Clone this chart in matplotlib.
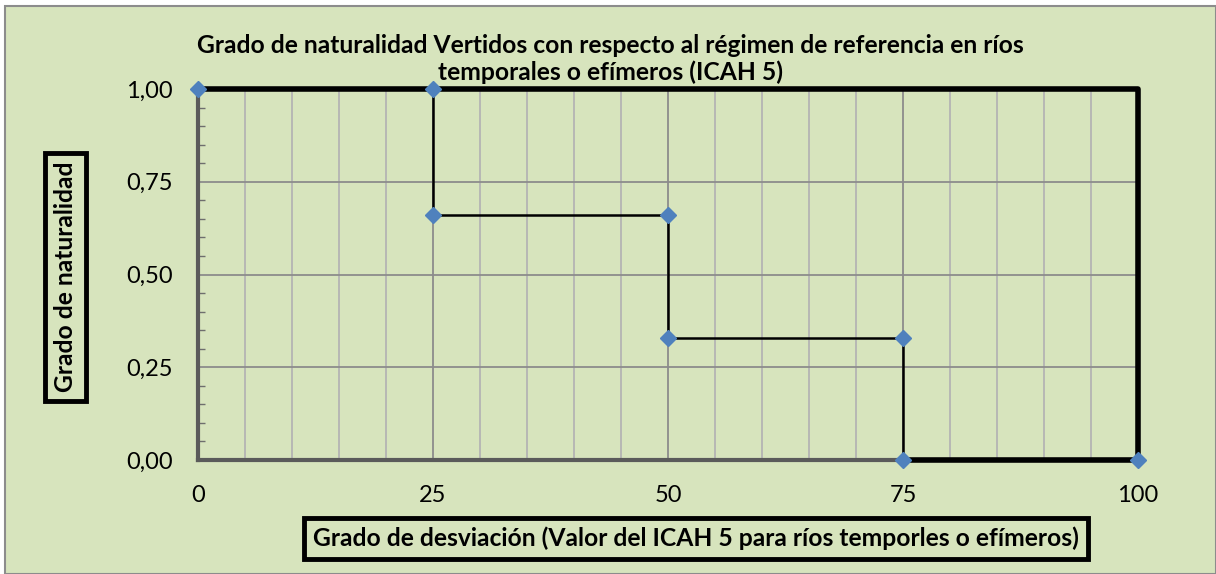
import matplotlib.pyplot as plt
from matplotlib.patches import Rectangle
from matplotlib.ticker import MultipleLocator, FixedLocator

# datos
desviacion = [0, 25, 25, 50, 50, 75, 75, 100]
naturalidad = [1.00, 1.00, 0.66, 0.66, 0.33, 0.33, 0.00, 0.00]
borde_x = [0, 100, 100, 75]
borde_y = [1.00, 1.00, 0.00, 0.00]
xticks = [0, 25, 50, 75, 100]
yticks = [0.00, 0.25, 0.50, 0.75, 1.00]
ytick_labels = ['0,00', '0,25', '0,50', '0,75', '1,00']

verde = '#d7e4bd'
plt.rcParams['font.family'] = ['Lato', 'DejaVu Sans']

fig = plt.figure(figsize=(12.16, 5.74), dpi=100, facecolor='white')
fondo = Rectangle((5 / 1216, 0), 1211 / 1216, 568 / 574, transform=fig.transFigure,
                  facecolor=verde, edgecolor='#8c8c8c', linewidth=1.5, zorder=-5)
fig.patches.append(fondo)

ax = fig.add_axes([198 / 1216, 1 - 460 / 574, 940 / 1216, 371 / 574])
ax.set_facecolor(verde)
ax.set_xlim(0, 100)
ax.set_ylim(0, 1)

# rejilla
ax.xaxis.set_major_locator(FixedLocator(xticks))
ax.xaxis.set_minor_locator(MultipleLocator(5))
ax.yaxis.set_major_locator(FixedLocator(yticks))
ax.yaxis.set_minor_locator(MultipleLocator(0.05))
ax.set_yticklabels(ytick_labels)
ax.grid(which='minor', axis='x', color='#b4b4b4', linewidth=1.3)
ax.grid(which='major', axis='x', color='#8c8c8c', linewidth=1.3)
ax.grid(which='major', axis='y', color='#8c8c8c', linewidth=1.3)
ax.set_axisbelow(True)

ax.tick_params(axis='both', which='major', length=0, labelsize=17, pad=18)
ax.tick_params(axis='x', which='minor', length=0)
ax.tick_params(axis='y', which='minor', direction='in', length=5, color='#6e6e6e', width=1)

for s in ['top', 'right']:
    ax.spines[s].set_visible(False)
for s in ['left', 'bottom']:
    ax.spines[s].set_color('#5a5a5a')
    ax.spines[s].set_linewidth(3)

ax.plot(borde_x, borde_y, color='black', linewidth=4, clip_on=False, zorder=3,
        solid_capstyle='projecting')
ax.plot(desviacion, naturalidad, color='black', linewidth=1.8, marker='D', markersize=8,
        markerfacecolor='#4f81bd', markeredgecolor='#4f81bd', clip_on=False, zorder=4)

fig.text(610 / 1216, 1 - 59 / 574,
         'Grado de naturalidad Vertidos con respecto al régimen de referencia en ríos\n'
         'temporales o efímeros (ICAH 5)',
         ha='center', va='center', fontsize=17.7, fontweight='bold', linespacing=1.15)

caja = dict(boxstyle='square,pad=0.35', facecolor=verde, edgecolor='black', linewidth=3.5)
fig.text(65.5 / 1216, 1 - 277 / 574, 'Grado de naturalidad', rotation=90,
         ha='center', va='center', fontsize=17.7, fontweight='bold', bbox=caja)
fig.text(696 / 1216, 1 - 538.5 / 574,
         'Grado de desviación (Valor del ICAH 5 para ríos temporles o efímeros)',
         ha='center', va='center', fontsize=17.7, fontweight='bold', bbox=caja)

fig.savefig('out.png', dpi=100, facecolor='white')
